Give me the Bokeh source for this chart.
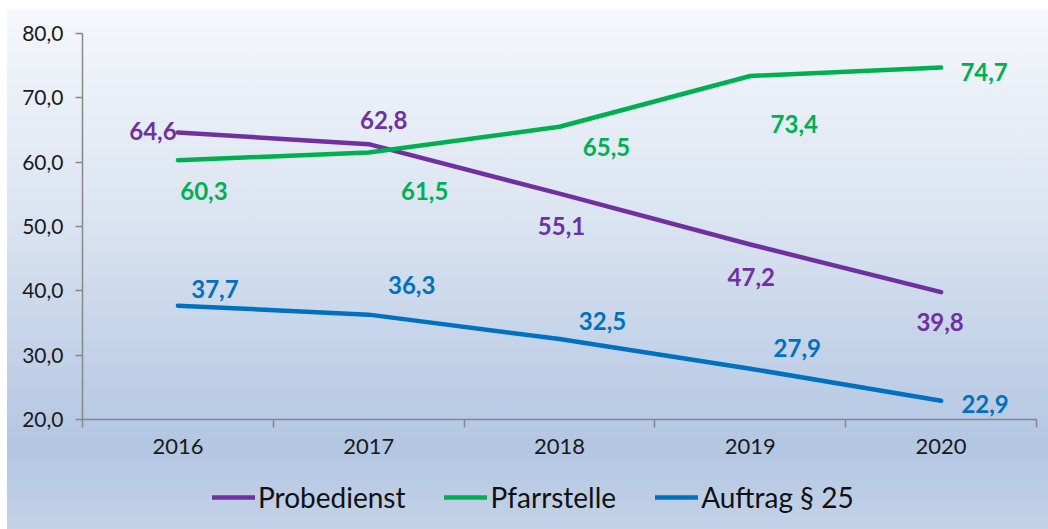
from bokeh.plotting import figure
from bokeh.layouts import column
from bokeh.models import (FixedTicker, CustomJSTickFormatter, Legend, LegendItem,
                          InlineStyleSheet, ColumnDataSource)
from bokeh.core.properties import value
from bokeh.embed import file_html
from bokeh.resources import INLINE

# ---- data ----
years = ["2016", "2017", "2018", "2019", "2020"]
probedienst = [64.6, 62.8, 55.1, 47.2, 39.8]
pfarrstelle = [60.3, 61.5, 65.5, 73.4, 74.7]
auftrag25 = [37.7, 36.3, 32.5, 27.9, 22.9]
series_names = ["Probedienst", "Pfarrstelle", "Auftrag § 25"]
y_ticks = [20, 30, 40, 50, 60, 70, 80]

# ---- styles / label placement (screen px, y down) ----
colors = ["#7030a0", "#00b050", "#0070c0"]
label_dx = [[-25, 15, 2, 1, -1],
            [26, 56, 47, 44, 43],
            [37, 43, 43, 47, 44]]
label_dy = [[-2, -24, 32, 32, 30],
            [31, 38, 20, 48, 4],
            [-17, -30, -18, -21, 3]]

xs = list(range(1, len(years) + 1))

p = figure(frame_width=954, frame_height=386, x_range=(0.5, len(years) + 0.5), y_range=(20, 80),
           output_backend="svg", toolbar_location=None,
           min_border_left=82, min_border_top=33, min_border_right=12, min_border_bottom=46)
p.background_fill_alpha = 0
p.border_fill_alpha = 0
p.outline_line_color = None
p.grid.visible = False

axis_color = "#888888"
# y axis
p.yaxis.ticker = FixedTicker(ticks=y_ticks)
p.yaxis.formatter = CustomJSTickFormatter(code="return tick.toFixed(1).replace('.', ',');")
p.yaxis.axis_line_color = axis_color
p.yaxis.axis_line_width = 1.5
p.yaxis.major_tick_line_color = axis_color
p.yaxis.major_tick_line_width = 1.5
p.yaxis.major_tick_out = 7
p.yaxis.major_tick_in = 0
p.yaxis.minor_tick_line_color = None
p.yaxis.major_label_standoff = 12
p.yaxis.major_label_text_font = "Lato"
p.yaxis.major_label_text_font_size = "21px"
p.yaxis.major_label_text_color = "#1a1a1a"

# x axis
p.xaxis.ticker = FixedTicker(ticks=xs, minor_ticks=[x - 0.5 for x in xs] + [xs[-1] + 0.5])
p.xaxis.major_label_overrides = {x: y for x, y in zip(xs, years)}
p.xaxis.axis_line_color = axis_color
p.xaxis.axis_line_width = 1.5
p.xaxis.major_tick_line_color = None
p.xaxis.major_tick_out = 0
p.xaxis.major_tick_in = 0
p.xaxis.minor_tick_line_color = axis_color
p.xaxis.minor_tick_line_width = 1.5
p.xaxis.minor_tick_out = 8
p.xaxis.minor_tick_in = 0
p.xaxis.major_label_standoff = 11
p.xaxis.major_label_text_font = "Lato"
p.xaxis.major_label_text_font_size = "22px"
p.xaxis.major_label_text_color = "#1a1a1a"

for vals, col, dxs, dys in zip([probedienst, pfarrstelle, auftrag25], colors, label_dx, label_dy):
    src = ColumnDataSource(dict(x=xs, y=vals,
                                t=[f"{v:.1f}".replace(".", ",") for v in vals],
                                dx=dxs, dy=dys))
    p.line("x", "y", source=src, line_color=col, line_width=4.5, line_cap="round",
           line_join="round")
    p.text("x", "y", text="t", source=src, x_offset="dx", y_offset="dy",
           text_align="center", text_baseline="middle", text_color=col,
           text_font=value("Lato"), text_font_style="bold", text_font_size="24px")

# ---- legend strip ----
lg = figure(width=1048, height=64, output_backend="svg", toolbar_location=None,
            x_range=(0, 1), y_range=(0, 1), min_border=0)
lg.background_fill_alpha = 0
lg.border_fill_alpha = 0
lg.outline_line_color = None
lg.grid.visible = False
lg.axis.visible = False

nan = float("nan")
items = []
for name, col in zip(series_names, colors):
    r = lg.line(x=[nan], y=[nan], line_color=col, line_width=4.5, line_cap="round")
    items.append(LegendItem(label=name, renderers=[r]))

legend = Legend(items=items, orientation="horizontal", location=(130, 15))
legend.background_fill_alpha = 0
legend.border_line_color = None
legend.label_text_font = "Lato"
legend.label_text_font_size = "28px"
legend.label_text_color = "#111111"
legend.glyph_width = 43
legend.glyph_height = 24
legend.label_standoff = 3
legend.spacing = 39
legend.padding = 0
legend.margin = 0
lg.add_layout(legend, "center")

layout = column(p, lg, spacing=0)
layout.stylesheets = [InlineStyleSheet(css=(
    ":host { background: linear-gradient(to bottom, #f5f8fc 0%, #dbe4f1 40%, #b3c6e2 84%, #c3d2e8 100%) "
    "7px 9px / calc(100% - 7px) calc(100% - 9px) no-repeat, #ffffff; }"))]

open("out.html", "w").write(file_html(layout, INLINE))
